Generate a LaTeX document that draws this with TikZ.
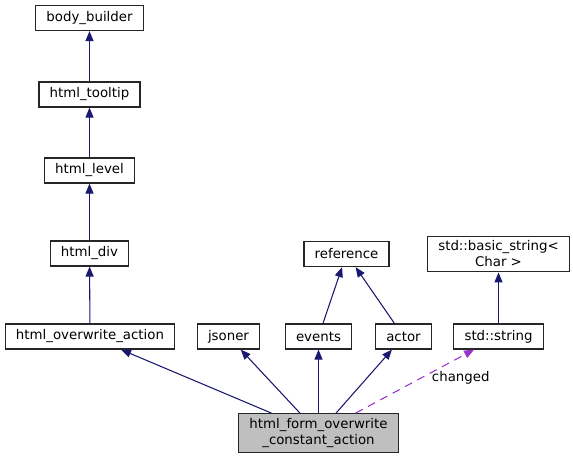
\documentclass[tikz,border=0pt]{standalone}
\usepackage{fontspec}
\setmainfont{DejaVu Sans}
\usetikzlibrary{
    arrows.meta
}
\definecolor{edgeblue}{HTML}{191970}
\definecolor{usepurple}{HTML}{9A32CD}
\tikzset {
    class box/.style = {
        draw = black!85, line width = 0.9pt, fill = white,
        font = \fontsize{10}{12}\selectfont, align = center,
        inner xsep = 8pt, inner ysep = 3.5pt, minimum height = 18.75pt
    },
    main box/.style = {class box, fill = black!25},
    inherit edge/.style = {
        draw = edgeblue, line width = 0.8pt,
        arrows = {-Triangle[length = 7.5pt, width = 6pt]}
    },
    usage edge/.style = {
        draw = usepurple, line width = 0.8pt, dash pattern = on 6pt off 4.5pt,
        arrows = {-Triangle[length = 7.5pt, width = 6pt]}
    },
    edge label/.style = {font = \fontsize{10}{12}\selectfont, inner sep = 0pt}
}
\begin{document}
\begin{tikzpicture}[x = 0.75pt, y = -0.75pt]
            \useasboundingbox (0, 0) rectangle (573, 460);
            \node (bb) [class box] at (89.5, 18) {body\_builder};
            \node (tip) [class box] at (89.5, 94.5) {html\_tooltip};
            \node (lvl) [class box] at (89.5, 170.5) {html\_level};
            \node (div) [class box] at (89.5, 253.5) {html\_div};
            \node (hoa) [class box] at (90, 336.5) {html\_overwrite\_action};
            \node (json) [class box] at (228.5, 336.5) {jsoner};
            \node (ev) [class box] at (318.5, 336.5) {events};
            \node (act) [class box] at (403.5, 336.5) {actor};
            \node (str) [class box] at (498.5, 336.5) {std::string};
            \node (ref) [class box] at (346.5, 254) {reference};
            \node (bstr) [class box] at (498.5, 254) {std::basic\_string<\\ Char >};
            \node (main) [main box] at (318.5, 433) {html\_form\_overwrite\\ \_constant\_action};
            \draw [inherit edge] (tip) -- (bb);
            \draw [inherit edge] (lvl) -- (tip);
            \draw [inherit edge] (div) -- (lvl);
            \draw [inherit edge] (hoa) -- (div);
            \draw [inherit edge] (ev) -- (ref);
            \draw [inherit edge] (act) -- (ref);
            \draw [inherit edge] (str) -- (bstr);
            \draw [inherit edge] (main) -- (hoa);
            \draw [inherit edge] (main) -- (json);
            \draw [inherit edge] (main) -- (ev);
            \draw [inherit edge] (main) -- (act);
            \draw [usage edge] (main) -- (str)
                node (chg) [edge label, pos = 0.55, anchor = west, xshift = 8pt] {changed};
        \end{tikzpicture}
\end{document}
